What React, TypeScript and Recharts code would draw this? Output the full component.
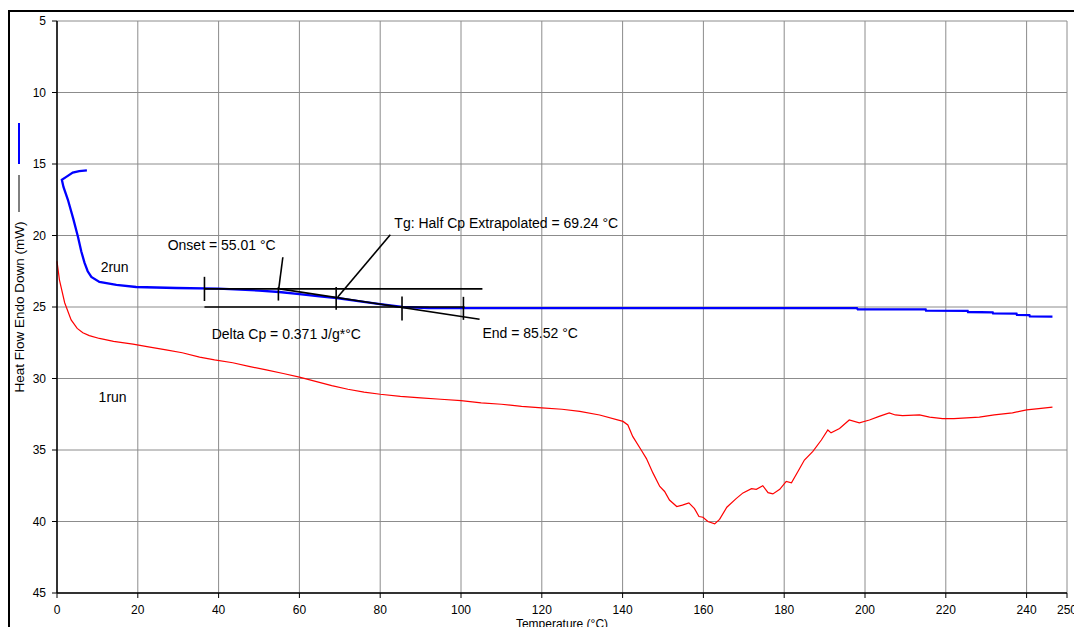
import { LineChart, Line, XAxis, YAxis, CartesianGrid, ReferenceLine, ReferenceDot } from "recharts";

const FONT = '"Liberation Sans", Arial, Helvetica, sans-serif';

// 1st heating run: temperature (°C) / heat flow (mW)
const run1Temp = [
  0, 0.6, 1.9, 3.5, 5, 6.4, 8, 10.5, 14, 18.8, 23, 27, 31, 35.3, 39, 43.5, 47.5, 51.8, 56, 60,
  64, 68, 72, 76, 80, 85, 90, 95, 100, 105, 110, 115, 120, 125, 129.4, 134.3, 140.1, 141.3, 142.5, 144.6,
  145.9, 147.5, 149.2, 150.4, 151.6, 153.4, 154.8, 156.4, 157.8, 158.9, 159.9, 161.1, 162.8, 164, 165.8, 168.1,
  169.8, 171.9, 173.1, 174.7, 176, 177.2, 178.9, 180.5, 181.8, 183.4, 185, 187.1, 189.2, 190.8, 191.6, 193.7,
  196.1, 198.6, 201.1, 203.5, 206, 207.5, 209.3, 213.5, 216, 219.2, 222, 228.3, 232, 236.5, 240, 243, 246.4,
];
const run1Flow = [
  21.8, 23.1, 24.7, 25.9, 26.5, 26.8, 27.0, 27.2, 27.4, 27.6, 27.8, 28.0, 28.2, 28.5, 28.7, 28.9, 29.15, 29.4, 29.65, 29.9,
  30.2, 30.5, 30.75, 30.95, 31.1, 31.25, 31.35, 31.45, 31.55, 31.7, 31.8, 31.95, 32.05, 32.15, 32.3, 32.55, 33.0, 33.25, 34.05, 35.0,
  35.6, 36.6, 37.55, 37.9, 38.5, 38.95, 38.85, 38.7, 39.1, 39.65, 39.7, 40.0, 40.17, 39.85, 39.0, 38.4,
  38.0, 37.7, 37.75, 37.5, 37.98, 38.07, 37.75, 37.2, 37.3, 36.5, 35.7, 35.1, 34.3, 33.6, 33.8, 33.5,
  32.9, 33.1, 32.9, 32.65, 32.4, 32.55, 32.6, 32.55, 32.7, 32.8, 32.8, 32.7, 32.55, 32.4, 32.2, 32.1, 32.0,
];

// 2nd heating run (starts with the hook at the top left)
const run2Temp = [
  7.4, 5.5, 3.9, 2.3, 1.2, 1.6, 2.7, 4, 5.2, 6, 6.8, 7.6, 8.5, 10.5, 14.7, 19.6, 29.5, 40, 50, 55,
  60, 65, 69.2, 75, 80, 85.5, 92, 100, 150, 198, 198.2, 215, 215.1, 225.4, 225.5, 231.6, 231.7, 237.5, 237.6, 240.7,
  240.8, 246.4,
];
const run2Flow = [
  15.45, 15.5, 15.6, 15.9, 16.1, 16.6, 17.5, 18.8, 20.1, 21.1, 21.9, 22.5, 22.9, 23.25, 23.46, 23.6, 23.67, 23.72, 23.85, 23.95,
  24.1, 24.25, 24.37, 24.6, 24.8, 25.0, 25.07, 25.08, 25.08, 25.08, 25.16, 25.16, 25.25, 25.27, 25.35, 25.37, 25.45, 25.47, 25.55, 25.57,
  25.65, 25.67,
];

const tempTicks = [0, 20, 40, 60, 80, 100, 120, 140, 160, 180, 200, 220, 240, 250];
const flowTicks = [5, 10, 15, 20, 25, 30, 35, 40, 45];

// Tg construction: baselines, tangent, leaders and marker ticks [x1, y1, x2, y2]
const tgSegments = [
  [36.5, 23.73, 105.3, 23.73],
  [36.5, 25.0, 100.9, 25.0],
  [55.1, 23.73, 104.6, 25.86],
  [55.9, 21.52, 54.9, 23.7],
  [82.5, 19.95, 69.5, 24.3],
  [36.5, 22.89, 36.5, 24.58],
  [54.8, 23.61, 54.8, 24.55],
  [69.1, 23.6, 69.1, 25.2],
  [85.4, 24.27, 85.4, 25.94],
  [100.6, 24.29, 100.6, 25.9],
];

const noteText = [
  "Onset = 55.01 °C",
  "Tg: Half Cp Extrapolated = 69.24 °C",
  "Delta Cp = 0.371 J/g*°C",
  "End = 85.52 °C",
  "2run",
  "1run",
];
const noteTemp = [27.4, 83.5, 38.3, 105.3, 10.8, 10.3];
const noteFlow = [20.7, 19.1, 26.9, 26.8, 22.2, 31.3];

const run1 = run1Temp.map((x, i) => ({ x, y: run1Flow[i] }));
const run2 = run2Temp.map((x, i) => ({ x, y: run2Flow[i] }));

function FlowAxisLabel({ viewBox }: any) {
  const cx = (viewBox?.x ?? 10) + 9;
  const cy = (viewBox?.y ?? 21) + (viewBox?.height ?? 572) / 2;
  return (
    <g>
      <line x1={cx} x2={cx} y1={cy - 184} y2={cy - 143} stroke="#0000ff" strokeWidth={2} />
      <line x1={cx} x2={cx} y1={cy - 132} y2={cy - 95} stroke="#000" strokeWidth={1} />
      <text
        x={cx}
        y={cy}
        transform={`rotate(-90 ${cx} ${cy})`}
        textAnchor="middle"
        dominantBaseline="central"
        fontSize={13.5}
        fontFamily={FONT}
        fill="#000"
      >
        Heat Flow Endo Down (mW)
      </text>
    </g>
  );
}

function TempAxisLabel({ viewBox }: any) {
  const x = (viewBox?.x ?? 57) + (viewBox?.width ?? 1010) / 2;
  const y = (viewBox?.y ?? 593) + 35;
  return (
    <text x={x} y={y} textAnchor="middle" fontSize={12} fontFamily={FONT} fill="#000">
      Temperature (°C)
    </text>
  );
}

export default function App() {
  return (
    <div style={{ position: "relative", width: 1082, height: 635, margin: -8, overflow: "hidden", background: "#fff" }}>
      <LineChart width={1082} height={635} margin={{ top: 21, right: 15, bottom: 0, left: 10 }}>
        <CartesianGrid stroke="#8c8c8c" strokeWidth={1} />
        <XAxis
          type="number"
          dataKey="x"
          domain={[0, 250]}
          ticks={tempTicks}
          interval={0}
          height={42}
          tickSize={5}
          tickMargin={7}
          axisLine={{ stroke: "#000", strokeWidth: 1.5 }}
          tickLine={{ stroke: "#000" }}
          tick={{ fill: "#000", fontSize: 12, fontFamily: FONT }}
          label={<TempAxisLabel />}
        />
        <YAxis
          type="number"
          dataKey="y"
          domain={[5, 45]}
          reversed
          ticks={flowTicks}
          interval={0}
          width={47}
          tickSize={5}
          tickMargin={6}
          axisLine={{ stroke: "#000", strokeWidth: 1.5 }}
          tickLine={{ stroke: "#000" }}
          tick={{ fill: "#000", fontSize: 12, fontFamily: FONT }}
          label={<FlowAxisLabel />}
        />
        <Line data={run1} dataKey="y" type="linear" stroke="#ff0000" strokeWidth={1.2} dot={false} isAnimationActive={false} />
        <Line data={run2} dataKey="y" type="linear" stroke="#0000ff" strokeWidth={2.3} dot={false} isAnimationActive={false} />
        {tgSegments.map(([x1, y1, x2, y2], i) => (
          <ReferenceLine
            key={`seg-${i}`}
            segment={[{ x: x1, y: y1 }, { x: x2, y: y2 }]}
            stroke="#000"
            strokeWidth={1.6}
            ifOverflow="visible"
          />
        ))}
        {noteText.map((text, i) => (
          <ReferenceDot
            key={`note-${i}`}
            x={noteTemp[i]}
            y={noteFlow[i]}
            r={0}
            fill="none"
            stroke="none"
            ifOverflow="visible"
            label={{ value: text, position: "right", offset: 0, fontSize: 14, fill: "#000", fontFamily: FONT }}
          />
        ))}
      </LineChart>
      <div
        style={{
          position: "absolute",
          left: 7,
          top: 10,
          width: 1065,
          height: 700,
          borderLeft: "3px solid #000",
          borderTop: "2px solid #000",
          borderRight: "3px solid #000",
          pointerEvents: "none",
        }}
      />
    </div>
  );
}
